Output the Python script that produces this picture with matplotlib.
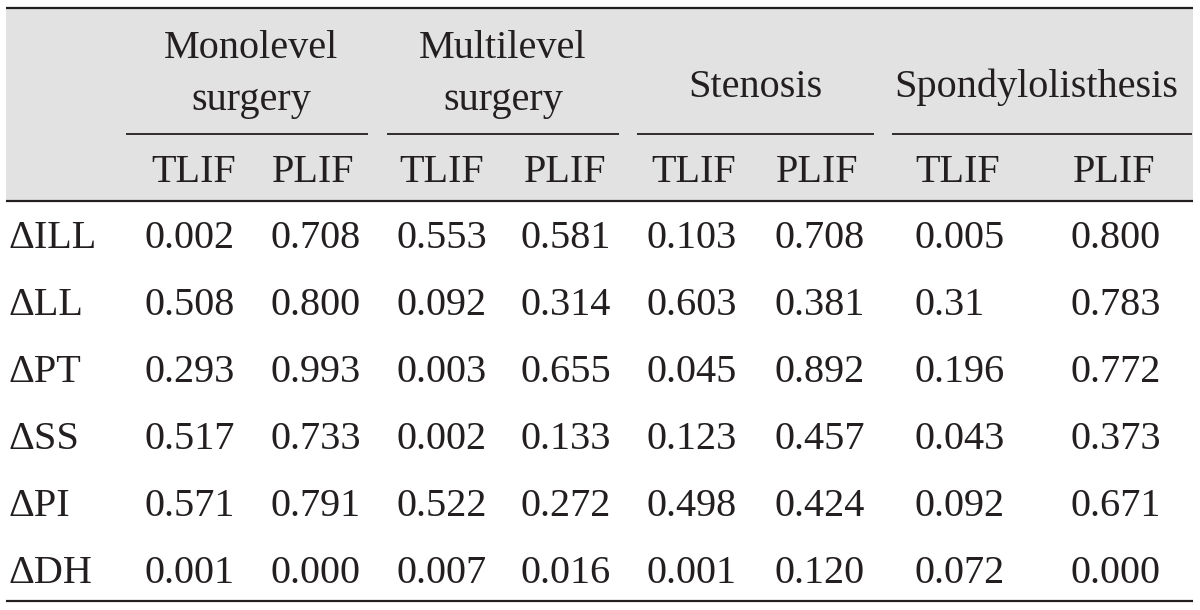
import matplotlib
matplotlib.use("Agg")
import matplotlib.pyplot as plt
from matplotlib.patches import Rectangle

# ---- data ----
groups = ["Monolevel\nsurgery", "Multilevel\nsurgery", "Stenosis", "Spondylolisthesis"]
subheads = ["TLIF", "PLIF"] * 4
row_labels = ["\u0394ILL", "\u0394LL", "\u0394PT", "\u0394SS", "\u0394PI", "\u0394DH"]

mono_tlif = ["0.002", "0.508", "0.293", "0.517", "0.571", "0.001"]
mono_plif = ["0.708", "0.800", "0.993", "0.733", "0.791", "0.000"]
multi_tlif = ["0.553", "0.092", "0.003", "0.002", "0.522", "0.007"]
multi_plif = ["0.581", "0.314", "0.655", "0.133", "0.272", "0.016"]
sten_tlif = ["0.103", "0.603", "0.045", "0.123", "0.498", "0.001"]
sten_plif = ["0.708", "0.381", "0.892", "0.457", "0.424", "0.120"]
spon_tlif = ["0.005", "0.31", "0.196", "0.043", "0.092", "0.072"]
spon_plif = ["0.800", "0.783", "0.772", "0.373", "0.671", "0.000"]
columns = [mono_tlif, mono_plif, multi_tlif, multi_plif,
           sten_tlif, sten_plif, spon_tlif, spon_plif]

# ---- layout (pixel coordinates) ----
W, H = 1200, 610
FONT = "Liberation Serif"
FS = 29
INK = "#231f20"

fig = plt.figure(figsize=(W / 100, H / 100), dpi=100)
ax = fig.add_axes([0, 0, 1, 1])
ax.set_xlim(0, W)
ax.set_ylim(H, 0)
ax.axis("off")

left, right = 6, 1193
top_y, head_y, bot_y = 8, 201, 601

ax.add_patch(Rectangle((left, top_y), right - left, head_y - top_y,
                       facecolor="#e2e2e2", edgecolor="none", zorder=0))
for y in (top_y, head_y, bot_y):
    ax.plot([left, right], [y, y], color=INK, lw=1.6, solid_capstyle="butt", zorder=2)

group_cx = [251, 503, 755, 1036]
group_lines = [(126, 368), (387, 619), (637, 874), (892, 1192)]
for g, cx, (x0, x1) in zip(groups, group_cx, group_lines):
    if "\n" in g:
        l1, l2 = g.split("\n")
        ax.text(cx, 58, l1, ha="center", va="baseline", fontsize=FS, family=FONT, color=INK)
        ax.text(cx, 110, l2, ha="center", va="baseline", fontsize=FS, family=FONT, color=INK)
    else:
        ax.text(cx, 97, g, ha="center", va="baseline", fontsize=FS, family=FONT, color=INK)
    ax.plot([x0, x1], [134, 134], color=INK, lw=1.3, solid_capstyle="butt")

sub_cx = [194, 313, 442, 565, 694, 817, 958, 1114]
for s, cx in zip(subheads, sub_cx):
    ax.text(cx, 182, s, ha="center", va="baseline", fontsize=FS, family=FONT, color=INK)

col_x = [144, 270, 396, 520, 647, 774, 914, 1071]
row_base = [248, 315, 382, 449, 516, 583]
for lab, yb in zip(row_labels, row_base):
    ax.text(8, yb, lab, ha="left", va="baseline", fontsize=FS, family=FONT, color=INK)
for col, x in zip(columns, col_x):
    for v, yb in zip(col, row_base):
        ax.text(x, yb, v, ha="left", va="baseline", fontsize=FS, family=FONT, color=INK)

fig.savefig("out.png", dpi=100, facecolor="white")
